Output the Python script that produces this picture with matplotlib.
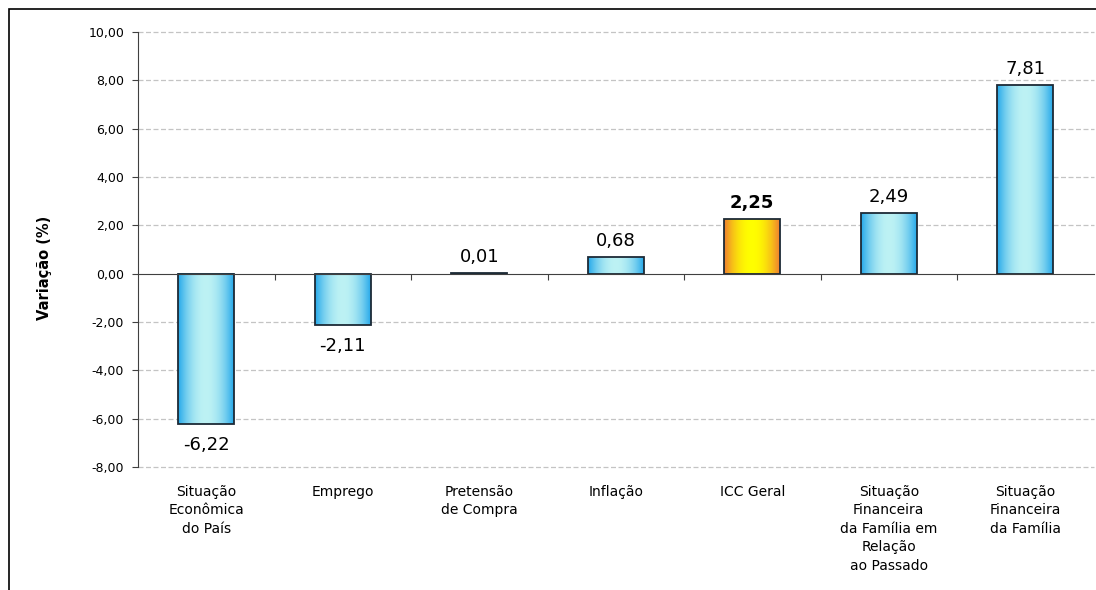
import numpy as np
import matplotlib.pyplot as plt
from matplotlib.colors import to_rgb
from matplotlib.patches import Rectangle
from matplotlib.transforms import blended_transform_factory, offset_copy

categories = ["Situação\nEconômica\ndo País", "Emprego", "Pretensão\nde Compra", "Inflação",
              "ICC Geral", "Situação\nFinanceira\nda Família em\nRelação\nao Passado",
              "Situação\nFinanceira\nda Família"]
values = [-6.22, -2.11, 0.01, 0.68, 2.25, 2.49, 7.81]
value_labels = ["-6,22", "-2,11", "0,01", "0,68", "2,25", "2,49", "7,81"]
highlight = 4
yticks = [-8, -6, -4, -2, 0, 2, 4, 6, 8, 10]

plt.rcParams['font.family'] = 'DejaVu Sans'
fig = plt.figure(figsize=(10.96, 5.9), dpi=100)
ax = fig.add_axes([138/1096, 1-467/590, (1093.5-138)/1096, (467-32)/590])

x = np.arange(len(values))
bars = ax.bar(x, values, width=0.41, facecolor='none', edgecolor='#1c2a36', linewidth=1.3, zorder=3)


def gradient(edge, center, n=64):
    t = np.abs(np.linspace(-1, 1, n))
    t = t ** 2
    e = np.array(to_rgb(edge))
    c = np.array(to_rgb(center))
    row = c[None, :] * (1 - t[:, None]) + e[None, :] * t[:, None]
    return row[None, :, :]


blue = gradient('#27a9ea', '#bdf2f4')
orange = gradient('#ee7f30', '#ffff00')
for i, b in enumerate(bars):
    img = orange if i == highlight else blue
    y0, h = b.get_y(), b.get_height()
    ax.imshow(img, extent=[b.get_x(), b.get_x() + b.get_width(), y0, y0 + h],
              aspect='auto', zorder=2, interpolation='bilinear')

# value labels
for i, b in enumerate(bars):
    v = values[i]
    weight = 'bold' if i == highlight else 'normal'
    if v >= 0:
        ax.annotate(value_labels[i], (b.get_x() + b.get_width()/2, v), xytext=(0, 8),
                    textcoords='offset points', ha='center', va='baseline',
                    fontsize=13, fontweight=weight, color='black')
    else:
        ax.annotate(value_labels[i], (b.get_x() + b.get_width()/2, v), xytext=(0, -9),
                    textcoords='offset points', ha='center', va='top',
                    fontsize=13, fontweight=weight, color='black')

ax.set_xlim(-0.5, len(values) - 0.5)
ax.set_ylim(-8, 10)
ax.set_yticks(yticks)
ax.set_yticklabels([f"{t:.2f}".replace('.', ',') for t in yticks], fontsize=9)
for t in yticks:
    if t != 0:
        ax.axhline(t, color='#c4c4c4', lw=0.9, ls=(0, (4, 2)), zorder=1, clip_on=False)

ax.spines['top'].set_visible(False)
ax.spines['right'].set_visible(False)
ax.spines['left'].set_color('#404040')
ax.spines['left'].set_zorder(4)
ax.spines['bottom'].set_position(('data', 0))
ax.spines['bottom'].set_color('#404040')
ax.spines['bottom'].set_zorder(4)
ax.set_xticks(np.arange(len(values) - 1) + 0.5)
ax.set_xticklabels([])
ax.tick_params(axis='x', direction='out', length=4, color='#404040')
ax.tick_params(axis='y', direction='out', length=4, color='#404040', pad=6)

trans = offset_copy(blended_transform_factory(ax.transData, ax.transAxes), fig=fig, x=0, y=-13, units='points')
for i, c in enumerate(categories):
    ax.text(x[i], 0, c, transform=trans, ha='center', va='top', multialignment='center',
            fontsize=10, linespacing=1.4, clip_on=False)

fig.text(45/1096, 1-268/590, 'Variação (%)', rotation=90, ha='center', va='center',
         fontsize=10.5, fontweight='bold')

fig.patches.append(Rectangle((9/1096, -0.1), 1.2, 1-9/590+0.1, transform=fig.transFigure,
                             fill=False, edgecolor='black', lw=1.2))

fig.savefig('out.png', dpi=100)
